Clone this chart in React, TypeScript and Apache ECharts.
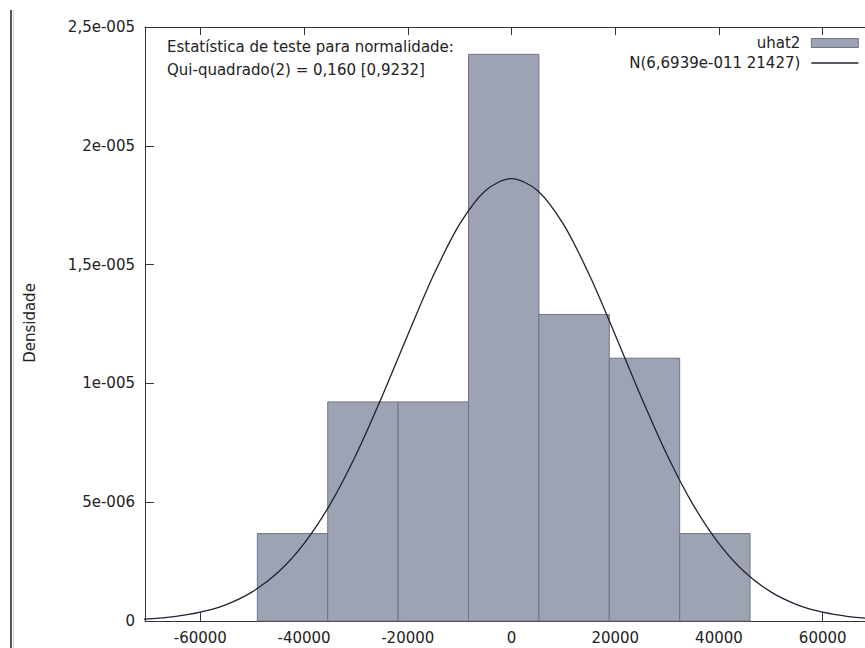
import React, { useEffect, useRef } from "react";
import * as echarts from "echarts";

// Histogram bins (edges) and densities
const binEdges: number[] = [-49000, -35430, -21860, -8290, 5280, 18850, 32420, 45990];
const binDensity: number[] = [3.68e-6, 9.22e-6, 9.22e-6, 2.385e-5, 1.29e-5, 1.106e-5, 3.68e-6];

// Normal density curve points
const curveX: number[] = [
  -75000, -70000, -65000, -60000, -55000, -50000, -45000, -40000, -35000, -30000, -25000,
  -20000, -15000, -10000, -5000, 0, 5000, 10000, 15000, 20000, 25000, 30000, 35000, 40000,
  45000, 50000, 55000, 60000, 65000, 70000, 75000,
];
const curveY: number[] = [
  4.1e-8, 9.0e-8, 1.87e-7, 3.69e-7, 6.9e-7, 1.224e-6, 2.05e-6, 3.26e-6, 4.9e-6, 6.99e-6, 9.43e-6,
  1.204e-5, 1.457e-5, 1.67e-5, 1.812e-5, 1.862e-5, 1.812e-5, 1.67e-5, 1.457e-5, 1.204e-5, 9.43e-6,
  6.99e-6, 4.9e-6, 3.26e-6, 2.05e-6, 1.224e-6, 6.9e-7, 3.69e-7, 1.87e-7, 9.0e-8, 4.1e-8,
];

const xTickValues: number[] = [-60000, -40000, -20000, 0, 20000, 40000, 60000];
const yTickValues: number[] = [0, 5e-6, 1e-5, 1.5e-5, 2e-5, 2.5e-5];
const yTickLabels: string[] = ["0", "5e-006", "1e-005", "1,5e-005", "2e-005", "2,5e-005"];

const seriesHistName = "uhat2";
const seriesCurveName = "N(6,6939e-011 21427)";
const annotationLines: string[] = [
  "Estatística de teste para normalidade:",
  "Qui-quadrado(2) = 0,160 [0,9232]",
];
const yAxisTitle = "Densidade";

const FONT = "DejaVu Sans";
const TEXT = "#222";
const BAR_FILL = "#9ea3b3";
const BAR_STROKE = "#6f7485";
const AXIS = "#333";
const CURVE = "#1f2230";

const CHART_W = 880;
const CHART_H = 648;

export default function App() {
  const ref = useRef<HTMLDivElement>(null);
  useEffect(() => {
    if (!ref.current) return;
    const chart = echarts.init(ref.current, undefined, { renderer: "svg" });
    const histData = binDensity.map((d, i) => [binEdges[i], binEdges[i + 1], d]);
    const curveData = curveX.map((x, i) => [x, curveY[i]]);
    const xMin = -70660;
    const xMax = 70660;
    chart.setOption({
      animation: false,
      backgroundColor: "#fff",
      textStyle: { fontFamily: FONT },
      grid: { left: 145, top: 27, right: CHART_W - 878, bottom: 27, containLabel: false },
      legend: {
        orient: "vertical",
        right: CHART_W - 859,
        top: 34,
        padding: 0,
        align: "right",
        itemWidth: 47,
        itemHeight: 9,
        itemGap: 2,
        textStyle: { fontFamily: FONT, fontSize: 15, color: TEXT, lineHeight: 18, padding: [0, 6, 0, 0] },
        data: [
          { name: seriesHistName, icon: "rect", itemStyle: { color: BAR_FILL, borderColor: BAR_STROKE, borderWidth: 1 } },
          { name: seriesCurveName, itemStyle: { opacity: 0 }, lineStyle: { color: CURVE, width: 1.3 } },
        ],
      },
      xAxis: [
        {
          type: "value",
          position: "bottom",
          min: xMin,
          max: xMax,
          splitLine: { show: false },
          axisLine: { show: true, onZero: false, lineStyle: { color: AXIS, width: 1 } },
          axisTick: { show: true, inside: true, length: 9, customValues: xTickValues, lineStyle: { color: AXIS } },
          axisLabel: {
            show: true,
            customValues: xTickValues,
            margin: 9,
            fontSize: 15,
            fontFamily: FONT,
            color: TEXT,
            formatter: (v: number) => String(v),
          },
        },
        {
          type: "value",
          position: "top",
          min: xMin,
          max: xMax,
          splitLine: { show: false },
          axisLine: { show: true, onZero: false, lineStyle: { color: AXIS, width: 1 } },
          axisTick: { show: true, inside: true, length: 8, customValues: xTickValues, lineStyle: { color: AXIS } },
          axisLabel: { show: false },
        },
      ],
      yAxis: [
        {
          type: "value",
          min: 0,
          max: 2.5e-5,
          interval: 5e-6,
          splitLine: { show: false },
          axisLine: { show: true, onZero: false, lineStyle: { color: AXIS, width: 1 } },
          axisTick: { show: true, inside: true, length: 9, lineStyle: { color: AXIS } },
          axisLabel: {
            margin: 10,
            fontSize: 15,
            fontFamily: FONT,
            color: TEXT,
            formatter: (v: number) => {
              let best = 0;
              for (let i = 0; i < yTickValues.length; i++) {
                if (Math.abs(yTickValues[i] - v) < Math.abs(yTickValues[best] - v)) best = i;
              }
              return yTickLabels[best];
            },
          },
        },
      ],
      graphic: [
        { type: "line", shape: { x1: 11, y1: 10, x2: 11, y2: 648 }, style: { stroke: "#555", lineWidth: 2 } },
        { type: "line", shape: { x1: 13.5, y1: 10, x2: 13.5, y2: 648 }, style: { stroke: "#d0d4dc", lineWidth: 1 } },
        {
          type: "text",
          x: 30,
          y: 323,
          rotation: Math.PI / 2,
          style: { text: yAxisTitle, fontFamily: FONT, fontSize: 15, fill: TEXT, align: "center", verticalAlign: "middle" },
        },
        {
          type: "text",
          x: 167,
          y: 47,
          style: { text: annotationLines[0], fontFamily: FONT, fontSize: 15, fill: TEXT, align: "left", verticalAlign: "middle" },
        },
        {
          type: "text",
          x: 167,
          y: 70,
          style: { text: annotationLines[1], fontFamily: FONT, fontSize: 15, fill: TEXT, align: "left", verticalAlign: "middle" },
        },
      ],
      series: [
        {
          name: seriesHistName,
          type: "custom",
          xAxisIndex: 0,
          yAxisIndex: 0,
          encode: { x: [0, 1], y: 2 },
          data: histData,
          itemStyle: { color: BAR_FILL },
          renderItem: (params: any, api: any) => {
            const x0 = api.value(0);
            const x1 = api.value(1);
            const y = api.value(2);
            const p0 = api.coord([x0, y]);
            const p1 = api.coord([x1, 0]);
            return {
              type: "rect",
              shape: { x: p0[0], y: p0[1], width: p1[0] - p0[0], height: p1[1] - p0[1] },
              style: { fill: BAR_FILL, stroke: BAR_STROKE, lineWidth: 1 },
            };
          },
          z: 2,
        },
        {
          name: seriesCurveName,
          type: "line",
          xAxisIndex: 0,
          yAxisIndex: 0,
          data: curveData,
          smooth: 0.3,
          symbol: "none",
          clip: true,
          lineStyle: { color: CURVE, width: 1.3 },
          itemStyle: { color: CURVE },
          z: 3,
        },
      ],
    });
    return () => chart.dispose();
  }, []);
  return (
    <div style={{ position: "absolute", left: 0, top: 0, width: 865, height: 648, overflow: "hidden", background: "#fff" }}>
      <div ref={ref} style={{ width: CHART_W, height: CHART_H }} />
    </div>
  );
}
